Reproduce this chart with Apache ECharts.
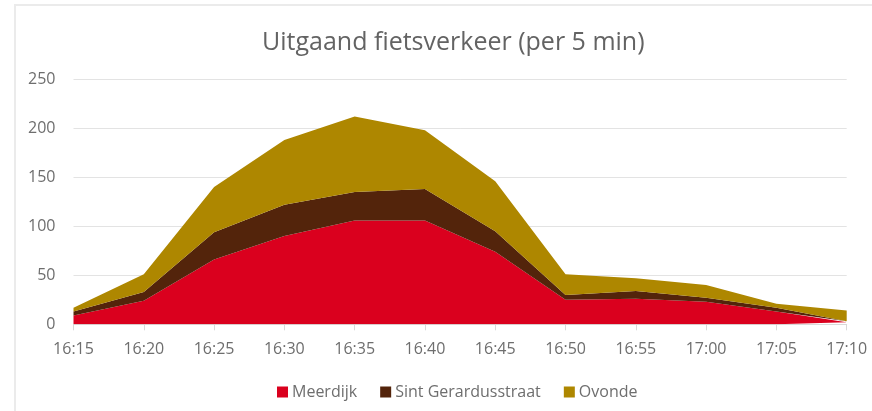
<!DOCTYPE html>
<html>
<head>
<meta charset="utf-8">
<script src="https://cdn.jsdelivr.net/npm/echarts@6/dist/echarts.min.js"></script>
<style>
html,body{margin:0;padding:0;background:#fff;}
#chart{width:872px;height:411px;}
</style>
</head>
<body>
<div id="chart"></div>
<script>
const categories = ['16:15','16:20','16:25','16:30','16:35','16:40','16:45','16:50','16:55','17:00','17:05','17:10'];
const meerdijk = [9, 24, 66, 90, 106, 106, 74, 25, 26, 23, 13, 2];
const sintGerardusstraat = [4, 9, 28, 32, 29, 32, 21, 5, 8, 4, 4, 1];
const ovonde = [4, 18, 46, 66, 77, 60, 51, 21, 13, 13, 4, 11];
const seriesNames = ['Meerdijk', 'Sint Gerardusstraat', 'Ovonde'];
const titleText = 'Uitgaand fietsverkeer (per 5 min)';

const colors = ['#DA001E', '#53240B', '#AE8700'];
const font = '"Open Sans", "Noto Sans", sans-serif';
const labelColor = '#6e6e6e';

const chart = echarts.init(document.getElementById('chart'), null, {renderer: 'canvas'});

function areaSeries(name, data, idx) {
  return {
    name: name,
    type: 'line',
    stack: 'total',
    data: data,
    symbol: 'none',
    lineStyle: {width: 0},
    areaStyle: {color: colors[idx], opacity: 1},
    itemStyle: {color: colors[idx]},
    emphasis: {disabled: true},
    animation: false
  };
}

chart.setOption({
  animation: false,
  color: colors,
  title: {
    text: titleText,
    left: 257,
    top: 25,
    textStyle: {fontFamily: font, fontSize: 25, fontWeight: 'normal', color: '#636363'}
  },
  legend: {
    data: seriesNames.map(n => ({name: n, icon: 'rect'})),
    top: 379,
    left: 272,
    itemWidth: 11,
    itemHeight: 11,
    itemGap: 23,
    textStyle: {fontFamily: font, fontSize: 16, color: labelColor, padding: [0, 0, 0, -1]}
  },
  grid: {left: 73.5, right: 25.3, top: 79.3, bottom: 86.7, containLabel: false},
  xAxis: {
    type: 'category',
    data: categories,
    boundaryGap: false,
    axisLine: {show: true, lineStyle: {color: '#d9d9d9', width: 1}},
    axisTick: {show: true, length: 6, alignWithLabel: true, lineStyle: {color: '#d9d9d9'}},
    axisLabel: {fontFamily: font, fontSize: 16, color: labelColor, margin: 17},
    splitLine: {show: false}
  },
  yAxis: {
    type: 'value',
    min: 0,
    max: 250,
    interval: 50,
    axisLine: {show: false},
    axisTick: {show: false},
    axisLabel: {fontFamily: font, fontSize: 16, color: labelColor, margin: 18},
    splitLine: {lineStyle: {color: '#e3e3e3', width: 1}}
  },
  graphic: [
    {type: 'line', shape: {x1: 15, y1: 5, x2: 15, y2: 411}, style: {stroke: '#ebebeb', lineWidth: 2}, silent: true},
    {type: 'line', shape: {x1: 14, y1: 5, x2: 872, y2: 5}, style: {stroke: '#ebebeb', lineWidth: 2}, silent: true}
  ],
  series: [
    areaSeries(seriesNames[0], meerdijk, 0),
    areaSeries(seriesNames[1], sintGerardusstraat, 1),
    areaSeries(seriesNames[2], ovonde, 2)
  ]
});
</script>
</body>
</html>
